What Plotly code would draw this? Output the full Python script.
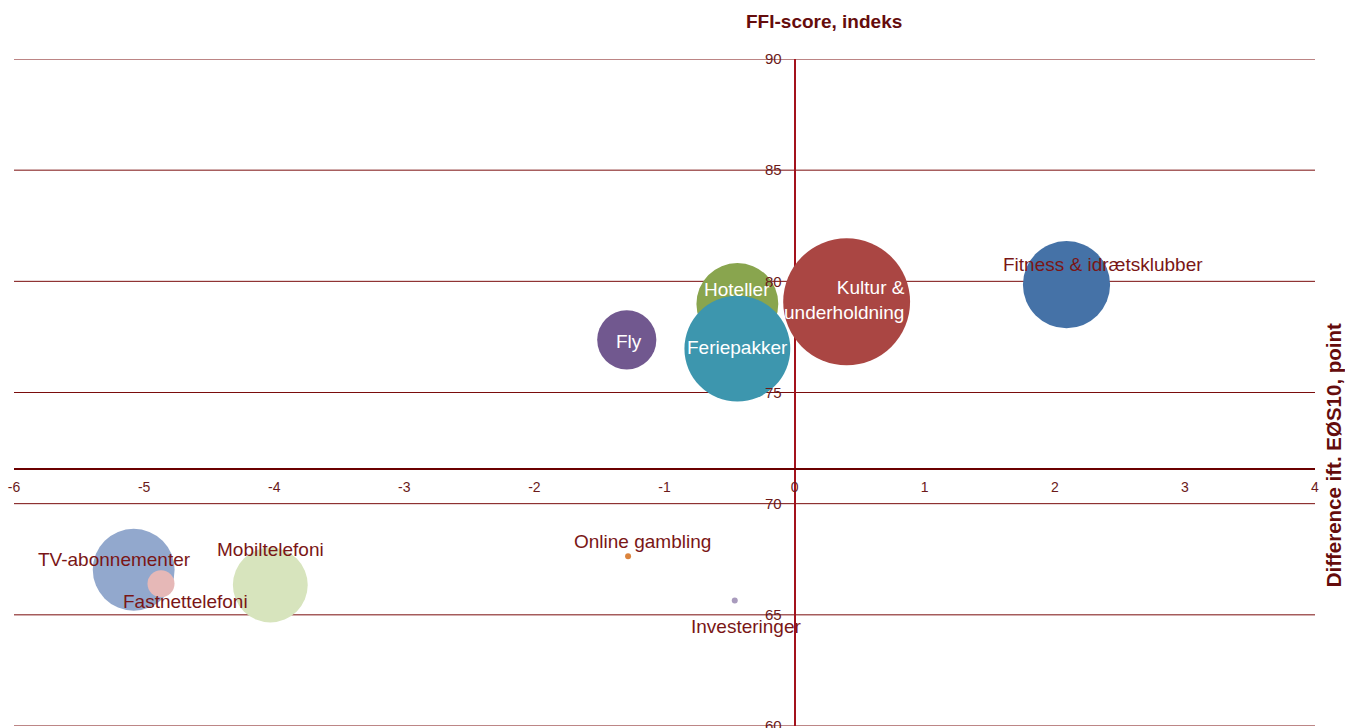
import plotly.graph_objects as go

# ---- data ----
categories = ["Fitness & idrætsklubber", "Kultur & underholdning", "Hoteller", "Feriepakker", "Fly",
              "TV-abonnementer", "Fastnettelefoni", "Mobiltelefoni", "Online gambling", "Investeringer"]
diff_eos10 = [2.09, 0.40, -0.44, -0.44, -1.29, -5.08, -4.87, -4.03, -1.28, -0.46]   # x
ffi_score = [79.85, 79.08, 78.98, 76.97, 77.37, 67.03, 66.40, 66.34, 67.63, 65.65]  # y
weights = [76, 161, 67, 112, 35, 67, 7.3, 56, 0.36, 0.36]                           # bubble size
x_ticks = [-6, -5, -4, -3, -2, -1, 0, 1, 2, 3, 4]
x_tick_labels = ["-6", "-5", "-4", "-3", "-2", "-1", "0", "1", "2", "3", "4"]
y_ticks = [60, 65, 70, 75, 80, 85, 90]
y_tick_labels = ["60", "65", "70", "75", "80", "85", "90"]

# ---- styles ----
colors = ["#4572A7", "#AA4643", "#89A54E", "#3D96AE", "#71588F",
          "#92A8CD", "#E6B8B7", "#D7E4BD", "#DB843D", "#A99BBD"]
DARK = "#7a1616"
GRID = "#7a0c0c"
label_style = {
    "Fitness & idrætsklubber": dict(dx=36, dy=20, color=DARK, align="center"),
    "Kultur & underholdning": dict(dx=-2, dy=2, color="white", align="right"),
    "Hoteller": dict(dx=0, dy=15, color="white", align="center"),
    "Feriepakker": dict(dx=0, dy=1, color="white", align="center"),
    "Fly": dict(dx=2, dy=-2, color="white", align="center"),
    "TV-abonnementer": dict(dx=-19, dy=10, color=DARK, align="center"),
    "Fastnettelefoni": dict(dx=24, dy=-18, color=DARK, align="center"),
    "Mobiltelefoni": dict(dx=0, dy=36, color=DARK, align="center"),
    "Online gambling": dict(dx=14, dy=15, color=DARK, align="center"),
    "Investeringer": dict(dx=12, dy=-26, color=DARK, align="center"),
}
FONT = "Liberation Sans, Arial, sans-serif"

fig = go.Figure()

# horizontal grid lines at every y tick (drawn below the bubbles)
for yv in y_ticks:
    fig.add_shape(type="line", xref="paper", yref="y", x0=0, x1=1, y0=yv, y1=yv,
                  line=dict(color=GRID, width=1), layer="below")

fig.add_trace(go.Scatter(
    x=diff_eos10, y=ffi_score, mode="markers",
    marker=dict(size=weights, sizemode="area", sizeref=0.02, color=colors,
                opacity=1, line=dict(width=0)),
    hoverinfo="text", text=categories, showlegend=False,
))

annotations = []
for name, xv, yv in zip(categories, diff_eos10, ffi_score):
    st = label_style[name]
    txt = name.replace("& underholdning", "&<br>underholdning")
    annotations.append(dict(
        x=xv, y=yv, xref="x", yref="y", text=txt, showarrow=False,
        xshift=st["dx"], yshift=st["dy"], align=st["align"],
        font=dict(family=FONT, size=19, color=st["color"]),
    ))

annotations.append(dict(
    text="<b>FFI-score, indeks</b>", xref="paper", yref="paper",
    x=(824 - 14) / 1301, y=1, yshift=50, showarrow=False,
    font=dict(family=FONT, size=19, color="#650c0c"),
))
annotations.append(dict(
    text="<b>Difference ift. EØS10, point</b>", xref="paper", yref="paper",
    x=1, xshift=32, y=0.405, showarrow=False, textangle=-90,
    font=dict(family=FONT, size=20.5, color="#650c0c"),
))

fig.update_layout(
    width=1345, height=728,
    margin=dict(l=14, r=30, t=59, b=2, autoexpand=False),
    paper_bgcolor="white", plot_bgcolor="white",
    font=dict(family=FONT, color="#6b1a1a"),
    annotations=annotations,
    xaxis=dict(
        range=[-6, 4], tickvals=x_ticks, ticktext=x_tick_labels, showgrid=False,
        zeroline=True, zerolinecolor="#a3121c", zerolinewidth=2,
        showline=True, linecolor="#6b0000", linewidth=2,
        anchor="free", position=0.386, ticks="", automargin=False,
        tickfont=dict(family=FONT, size=14, color="#6b1a1a"),
        ticklabelstandoff=6, ticklabeloverflow="allow",
    ),
    yaxis=dict(
        range=[60, 90], tickvals=y_ticks, ticktext=y_tick_labels, showgrid=False,
        zeroline=False, automargin=False,
        anchor="free", position=0.6, side="left", ticks="",
        showline=False,
        tickfont=dict(family=FONT, size=15, color="#6b1a1a"),
        ticklabelstandoff=13, ticklabeloverflow="allow",
    ),
)

fig.write_html("out.html")
